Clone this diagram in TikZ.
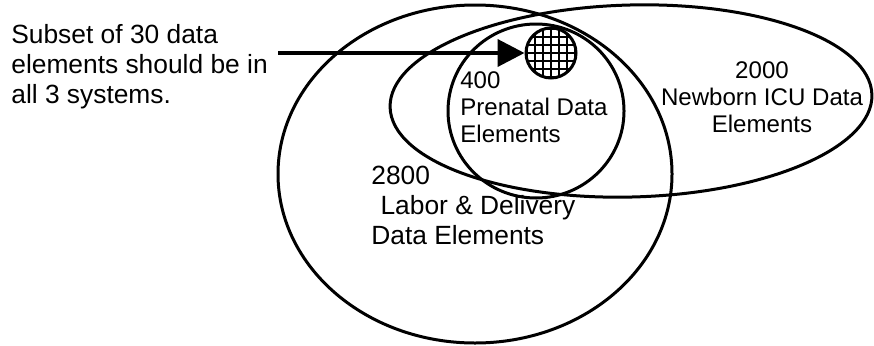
\documentclass[tikz,border=0pt]{standalone}
\usepackage{fontspec}
\setmainfont{Liberation Sans}
\usetikzlibrary{arrows.meta}

\tikzset{
	venn/.style={line width=0.06cm},
	bigtext/.style={inner sep=0pt, font=\fontsize{15}{17}\selectfont},
	smalltext/.style={inner sep=0pt, font=\fontsize{13.7}{15.4}\selectfont},
}

\begin{document}
\begin{tikzpicture}[x=0.02cm, y=-0.02cm]
	\useasboundingbox (0,0) rectangle (874,345);
	
	%ellipses
	\draw[venn] (475,174) ellipse [x radius=197, y radius=169];		%Labor & Delivery
	\draw[venn, rotate around={1.5:(631,101)}] (631,101) ellipse [x radius=241, y radius=96];	%Newborn ICU
	\draw[venn] (536,111) ellipse [x radius=88, y radius=87];		%Prenatal
	
	%30 shared elements - hatched
	\node[circle, draw, venn, minimum size=1cm, inner sep=0pt,
		path picture={
			\foreach \k in {-3,...,3} {
				\draw[line width=0.8pt] ([xshift=\k*0.16cm]path picture bounding box.north) -- ([xshift=\k*0.16cm]path picture bounding box.south);
				\draw[line width=0.8pt] ([yshift=\k*0.16cm]path picture bounding box.west) -- ([yshift=\k*0.16cm]path picture bounding box.east);
			}
		}] (subset) at (551,53) {};
	
	%labels
	\node[bigtext, anchor=north west, align=left] (note) at (11,24) {Subset of 30 data\\elements should be in\\all 3 systems.};
	\node[bigtext, anchor=north west, align=left] (labor) at (371,166) {2800\\\hspace*{0.35em}Labor \& Delivery\\Data Elements};
	\node[smalltext, anchor=north west, align=left] (prenatal) at (460,71) {400\\Prenatal Data\\Elements};
	\node[smalltext, anchor=north, align=center] (newborn) at (762,61) {2000\\Newborn ICU Data\\Elements};
	
	%arrow
	\coordinate (from) at (278,53);
	\draw[line width=0.08cm, -{Triangle[length=0.54cm, width=0.54cm]}] (from) -- (subset.west);
\end{tikzpicture}
\end{document}
